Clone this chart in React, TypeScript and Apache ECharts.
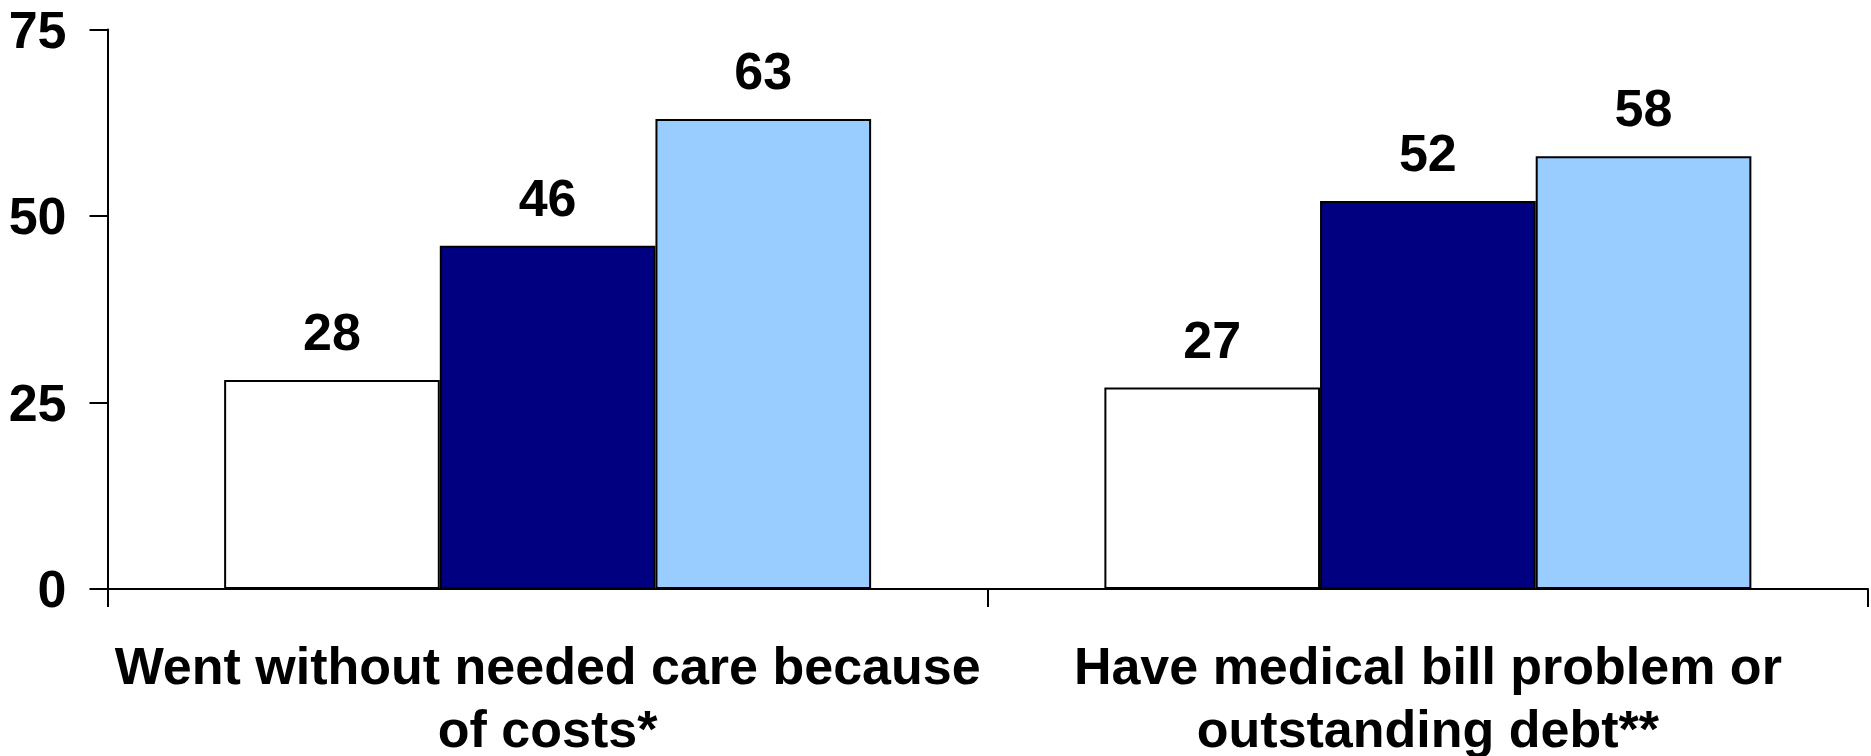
import React, { useEffect, useRef } from "react";
import * as echarts from "echarts";

// Category labels (two lines each) and the three bar series per category
const categories = [
  "Went without needed care because\nof costs*",
  "Have medical bill problem or\noutstanding debt**",
];
const seriesAValues = [28, 27];
const seriesBValues = [46, 52];
const seriesCValues = [63, 58];

const seriesColors = ["#FFFFFF", "#000080", "#99CCFF"];
const yMin = 0;
const yMax = 75;
const yStep = 25;

const FONT = "'Liberation Sans', Arial, Helvetica, sans-serif";

export default function App() {
  const ref = useRef<HTMLDivElement>(null);

  useEffect(() => {
    if (!ref.current) return;
    const chart = echarts.init(ref.current, undefined, { renderer: "svg" });

    const valueLabel = {
      show: true,
      position: "top" as const,
      distance: 22,
      color: "#000",
      fontFamily: FONT,
      fontWeight: "bold" as const,
      fontSize: 52,
    };

    const makeSeries = (name: string, data: number[], color: string) => ({
      name,
      type: "bar" as const,
      data,
      barGap: "0%",
      barCategoryGap: "26.5%",
      itemStyle: { color, borderColor: "#000", borderWidth: 2 },
      label: valueLabel,
    });

    chart.setOption({
      animation: false,
      backgroundColor: "#fff",
      grid: {
        left: 107.5,
        right: 3,
        top: 29.5,
        bottom: 167,
        containLabel: false,
        outerBoundsMode: "none",
      },
      xAxis: {
        type: "category",
        data: categories,
        boundaryGap: true,
        axisLine: { show: true, lineStyle: { color: "#000", width: 2 } },
        axisTick: { show: true, inside: false, length: 18, lineStyle: { color: "#000", width: 2 } },
        axisLabel: {
          color: "#000",
          fontFamily: FONT,
          fontWeight: "bold",
          fontSize: 52,
          lineHeight: 63,
          margin: 45,
          interval: 0,
          align: "center",
        },
      },
      yAxis: {
        type: "value",
        min: yMin,
        max: yMax,
        interval: yStep,
        axisLine: { show: true, lineStyle: { color: "#000", width: 2 } },
        axisTick: { show: true, inside: false, length: 18, lineStyle: { color: "#000", width: 2 } },
        splitLine: { show: false },
        axisLabel: {
          color: "#000",
          fontFamily: FONT,
          fontWeight: "bold",
          fontSize: 52,
          margin: 41,
        },
      },
      series: [
        makeSeries("A", seriesAValues, seriesColors[0]),
        makeSeries("B", seriesBValues, seriesColors[1]),
        makeSeries("C", seriesCValues, seriesColors[2]),
      ],
    });

    return () => chart.dispose();
  }, []);

  return (
    <div
      ref={ref}
      style={{ position: "fixed", left: 0, top: 0, width: 1871, height: 756, background: "#fff" }}
    />
  );
}
